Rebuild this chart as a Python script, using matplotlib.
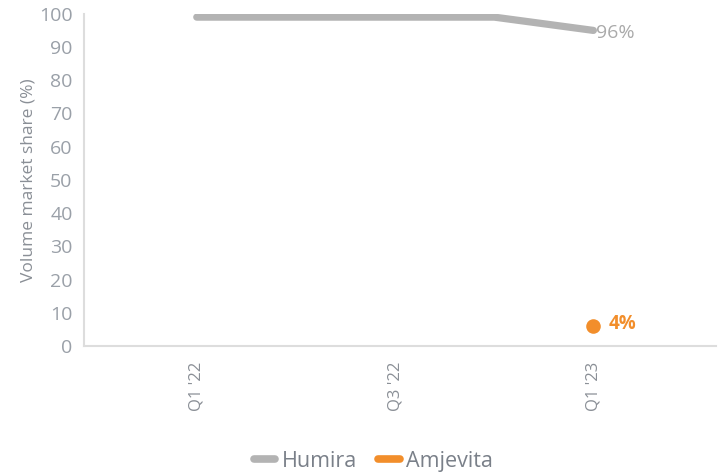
import matplotlib.pyplot as plt
from matplotlib.lines import Line2D

plt.rcParams["font.family"] = ["Open Sans", "DejaVu Sans"]

QUARTERS = ["Q1 '22", "Q2 '22", "Q3 '22", "Q4 '22", "Q1 '23"]
TICK_LABELS = ["Q1 '22", "", "Q3 '22", "", "Q1 '23"]
HUMIRA = [99, 99, 99, 99, 95]
AMJEVITA_X = ["Q1 '23"]
AMJEVITA = [6]
HUMIRA_LABEL = "96%"
AMJEVITA_LABEL = "4%"

GREY = "#b3b3b3"
ORANGE = "#f28e2b"
AXIS = "#dddddd"
TICK = "#9aa0a8"


def main():
    fig = plt.figure(figsize=(7.28, 4.76), dpi=100)
    ax = fig.add_axes([0.115, 0.273, 0.869, 0.698])

    x = list(range(len(QUARTERS)))
    ax.plot(x, HUMIRA, color=GREY, lw=5.2, solid_capstyle="round",
            solid_joinstyle="round")
    ax_x = [QUARTERS.index(q) for q in AMJEVITA_X]
    ax.plot(ax_x, AMJEVITA, "o", color=ORANGE, ms=10.5, mec="none")

    ax.text(x[-1] + 0.03, HUMIRA[-1] - 0.8, HUMIRA_LABEL, color="#aaaaaa",
            fontsize=14, va="center", ha="left")
    ax.text(ax_x[-1] + 0.15, AMJEVITA[-1] + 0.5, AMJEVITA_LABEL, color=ORANGE,
            fontsize=13.5, fontweight="bold", va="center", ha="left")

    ax.set_xlim(-1.14, 5.24)
    ax.set_ylim(0, 100)
    ax.set_yticks(range(0, 101, 10))
    ax.set_xticks(x)
    ax.set_xticklabels(TICK_LABELS, rotation=90, color="#8a8f96", fontsize=12)
    ax.tick_params(axis="y", labelcolor=TICK, labelsize=14, length=0, pad=8)
    ax.tick_params(axis="x", length=0, pad=11)

    for side in ["top", "right"]:
        ax.spines[side].set_visible(False)
    for side in ["left", "bottom"]:
        ax.spines[side].set_color(AXIS)
        ax.spines[side].set_linewidth(1.5)

    ax.set_ylabel("Volume market share (%)", color="#8a8f96", fontsize=12.5,
                  labelpad=2)

    handles = [
        Line2D([0], [0], color=GREY, lw=5.5, solid_capstyle="round"),
        Line2D([0], [0], color=ORANGE, lw=5.5, solid_capstyle="round"),
    ]
    fig.legend(handles, ["Humira", "Amjevita"], loc="lower center",
               bbox_to_anchor=(0.513, -0.032), ncol=2, frameon=False,
               fontsize=15.5, handlelength=1.0, handletextpad=0.3,
               columnspacing=1.0, labelcolor="#7a8089")

    fig.savefig("out.png", dpi=100)
    plt.close(fig)


if __name__ == "__main__":
    main()
